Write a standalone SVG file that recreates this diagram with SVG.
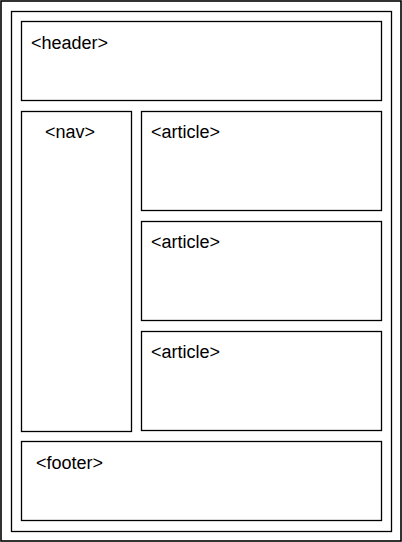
<svg xmlns="http://www.w3.org/2000/svg" width="402" height="542" viewBox="0 0 402 542">
<style>
rect{fill:none;stroke:#000;stroke-width:1.3}
text{font-family:"Liberation Sans",Arial,Helvetica,sans-serif;font-size:18px;fill:#000}
</style>
<rect x="0" y="0" width="402" height="542" style="fill:#fff;stroke:none"/>
<g id="outer"><rect x="1" y="1" width="400" height="540" style="stroke-width:1.6"/></g>
<g id="body"><rect x="11.5" y="11.5" width="380" height="520"/></g>
<g id="header"><rect x="21.5" y="21.5" width="360" height="79"/><text x="31" y="49">&lt;header&gt;</text></g>
<g id="nav"><rect x="21.5" y="111.5" width="110" height="320"/><text x="45" y="138">&lt;nav&gt;</text></g>
<g id="article1"><rect x="141.5" y="111.5" width="240" height="99"/><text x="151" y="138">&lt;article&gt;</text></g>
<g id="article2"><rect x="141.5" y="221.5" width="240" height="99"/><text x="151" y="248">&lt;article&gt;</text></g>
<g id="article3"><rect x="141.5" y="331.5" width="240" height="99"/><text x="151" y="358">&lt;article&gt;</text></g>
<g id="footer"><rect x="21.5" y="441.5" width="360" height="79"/><text x="36" y="469">&lt;footer&gt;</text></g>
<g id="connectors"/>
</svg>
